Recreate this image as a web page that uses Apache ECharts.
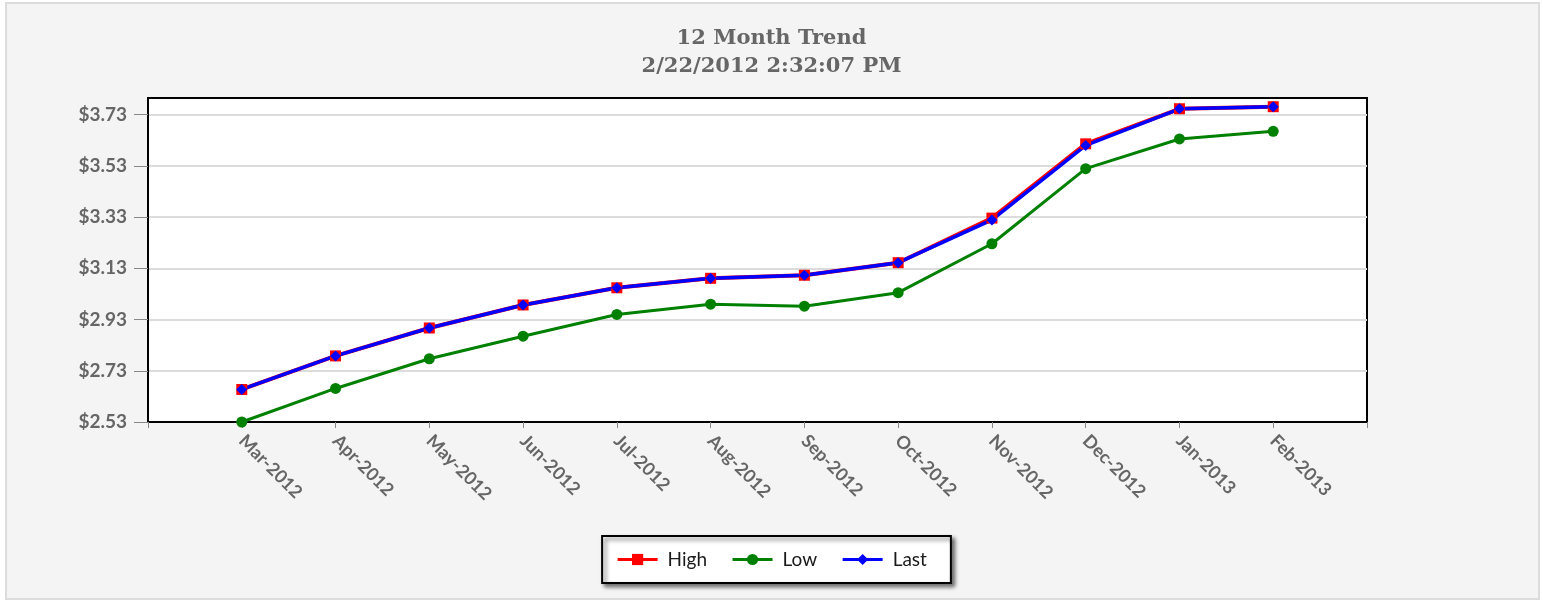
<!DOCTYPE html>
<html>
<head>
<meta charset="utf-8">
<script src="https://cdn.jsdelivr.net/npm/echarts@6/dist/echarts.min.js"></script>
<style>
  html, body { margin:0; padding:0; background:#fff; }
  .frame { position:absolute; left:5px; top:2px; width:1531px; height:594px; background:#f4f4f4; border:2px solid #dcdcdc; }
  #chart { position:absolute; left:0; top:0; width:1543px; height:602px; }
</style>
</head>
<body>
<div class="frame"></div>
<div id="chart"></div>
<script>
  // 数据
  const months = ['Mar-2012', 'Apr-2012', 'May-2012', 'Jun-2012', 'Jul-2012', 'Aug-2012',
                  'Sep-2012', 'Oct-2012', 'Nov-2012', 'Dec-2012', 'Jan-2013', 'Feb-2013'];
  const highValues = [2.657, 2.788, 2.897, 2.987, 3.054, 3.091, 3.103, 3.152, 3.326, 3.616, 3.753, 3.761];
  const lowValues  = [2.530, 2.661, 2.777, 2.865, 2.950, 2.990, 2.982, 3.035, 3.226, 3.519, 3.635, 3.665];
  const lastValues = [2.657, 2.788, 2.897, 2.987, 3.054, 3.091, 3.103, 3.152, 3.319, 3.610, 3.753, 3.761];
  const yTicks = [2.53, 2.73, 2.93, 3.13, 3.33, 3.53, 3.73];

  // 两端各留一个空位，让首尾点落在刻度之间
  const cats = [''].concat(months, ['']);
  const pad = arr => [null].concat(arr, [null]);

  const chart = echarts.init(document.getElementById('chart'), null, { renderer: 'canvas' });
  const option = {
    backgroundColor: 'transparent',
    animation: false,
    title: {
      text: '12 Month Trend\n2/22/2012 2:32:07 PM',
      left: 'center',
      top: 20,
      textStyle: { fontFamily: 'DejaVu Serif', fontWeight: 'bold', fontSize: 21, lineHeight: 28, color: '#666' }
    },
    legend: {
      data: ['High', 'Low', 'Last'],
      left: 'center',
      top: 536,
      backgroundColor: '#fff',
      borderColor: '#000',
      borderWidth: 2,
      shadowColor: 'rgba(0,0,0,0.55)',
      shadowBlur: 4,
      shadowOffsetX: 3,
      shadowOffsetY: 3,
      padding: [14, 24, 14, 14],
      itemGap: 24,
      itemWidth: 40,
      itemHeight: 14,
      lineStyle: { width: 3 },
      textStyle: { fontFamily: 'Lato', fontSize: 19, color: '#1a1a1a', padding: [0, 0, 0, 5] }
    },
    grid: {
      left: 148, right: 176, top: 98, bottom: 180,
      show: true, backgroundColor: '#fff', borderColor: '#000', borderWidth: 2
    },
    xAxis: {
      type: 'category',
      data: cats,
      boundaryGap: false,
      axisLine: { show: true, lineStyle: { color: '#000', width: 2 } },
      axisTick: { show: true, length: 6, interval: 0, lineStyle: { color: '#888' } },
      axisLabel: {
        interval: 0, rotate: -45, margin: 16,
        fontFamily: 'Lato', fontWeight: 'bold', fontSize: 18, color: '#666'
      },
      splitLine: { show: false }
    },
    yAxis: {
      type: 'value',
      min: 2.53,
      max: 3.795,
      interval: 0.2,
      axisLine: { show: true, lineStyle: { color: '#000', width: 2 } },
      axisTick: { show: true, length: 14, lineStyle: { color: '#888' }, customValues: yTicks },
      axisLabel: {
        margin: 21, customValues: yTicks,
        fontFamily: 'Lato', fontWeight: 'bold', fontSize: 19, color: '#666',
        formatter: v => '$' + v.toFixed(2)
      },
      splitLine: { show: true, lineStyle: { color: '#dcdcdc', width: 2 } }
    },
    series: [
      {
        name: 'High', type: 'line', data: pad(highValues),
        symbol: 'rect', symbolSize: 11, showAllSymbol: true,
        lineStyle: { color: '#ff0000', width: 4 },
        itemStyle: { color: '#ff0000' }
      },
      {
        name: 'Low', type: 'line', data: pad(lowValues),
        symbol: 'circle', symbolSize: 11, showAllSymbol: true,
        lineStyle: { color: '#008000', width: 3 },
        itemStyle: { color: '#008000' }
      },
      {
        name: 'Last', type: 'line', data: pad(lastValues),
        symbol: 'diamond', symbolSize: 11, showAllSymbol: true,
        lineStyle: { color: '#0000ff', width: 3.5 },
        itemStyle: { color: '#0000ff' }
      }
    ]
  };
  chart.setOption(option);
</script>
</body>
</html>
